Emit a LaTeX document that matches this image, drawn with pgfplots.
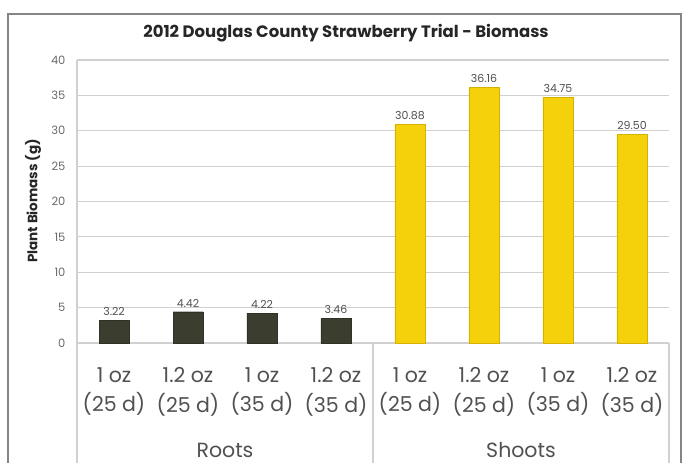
\documentclass[border=0pt]{standalone}
\usepackage{pgfplots}
\pgfplotsset{compat=1.18}
\usepackage{fontspec}
\setmainfont{Poppins}

\definecolor{rootc}{HTML}{3B3E2F}
\definecolor{shootc}{HTML}{F4D10B}
\definecolor{shootedge}{HTML}{D6B200}
\definecolor{gridc}{HTML}{D0D0D0}
\definecolor{framec}{HTML}{858585}
\definecolor{textc}{HTML}{505050}

\begin{document}
\begin{tikzpicture}[x=1pt,y=1pt]
\path[use as bounding box] (0,0) rectangle (683,463);

% outer chart frame (open at the bottom)
\draw[framec, line width=1.6pt] (8,0) -- (8,449) -- (681,449) -- (681,0);

% chart title
\node[font=\bfseries\fontsize{16.5}{19}\selectfont, text=black!85] at (346,430)
  {2012 Douglas County Strawberry Trial - Biomass};

% y axis title
\node[rotate=90, font=\bfseries\fontsize{13.5}{15}\selectfont, text=black!85] at (33,262)
  {Plant Biomass (g)};

\begin{axis}[
  at={(77pt,120pt)}, anchor=south west,
  width=592pt, height=283pt, scale only axis,
  xmin=-0.5, xmax=7.5, ymin=0, ymax=40,
  ytick={0,5,...,40},
  xtick={0,...,7},
  xticklabels={{1 oz\\(25 d)},{1.2 oz\\(25 d)},{1 oz\\(35 d)},{1.2 oz\\(35 d)},
               {1 oz\\(25 d)},{1.2 oz\\(25 d)},{1 oz\\(35 d)},{1.2 oz\\(35 d)}},
  axis lines*=left,
  axis line style={-, gridc, line width=1.1pt},
  ymajorgrids, grid style={gridc, line width=1.1pt},
  major tick length=0pt,
  /pgf/number format/assume math mode=true,
  yticklabel style={font=\fontsize{11.5}{13}\selectfont, text=textc!85, xshift=-8pt},
  xticklabel style={font=\fontsize{20.5}{29.5}\selectfont, align=center, text=textc, yshift=-21pt},
  clip=false,
  nodes near coords={\pgfmathprintnumber[fixed,fixed zerofill,precision=2]{\pgfplotspointmeta}},
  nodes near coords style={font=\fontsize{11}{13}\selectfont, text=textc, yshift=1pt},
]
% roots
\addplot[ybar, bar width=30pt, bar shift=0pt, fill=rootc, draw=rootc!80!black]
  coordinates {(0,3.22) (1,4.42) (2,4.22) (3,3.46)};
% shoots
\addplot[ybar, bar width=30pt, bar shift=0pt, fill=shootc, draw=shootedge]
  coordinates {(4,30.88) (5,36.16) (6,34.75) (7,29.50)};

% group dividers below the category axis
\draw[gridc, line width=1.1pt] (axis cs:-0.5,0) -- ++(0pt,-120pt);
\draw[gridc, line width=1.1pt] (axis cs:3.5,0) -- ++(0pt,-120pt);
\draw[gridc, line width=1.1pt] (axis cs:7.5,0) -- ++(0pt,-120pt);

% group names
\node[font=\fontsize{20.5}{24}\selectfont, text=textc, anchor=base] at ([yshift=-114pt]axis cs:1.5,0) {Roots};
\node[font=\fontsize{20.5}{24}\selectfont, text=textc, anchor=base] at ([yshift=-114pt]axis cs:5.5,0) {Shoots};
\end{axis}
\end{tikzpicture}
\end{document}
